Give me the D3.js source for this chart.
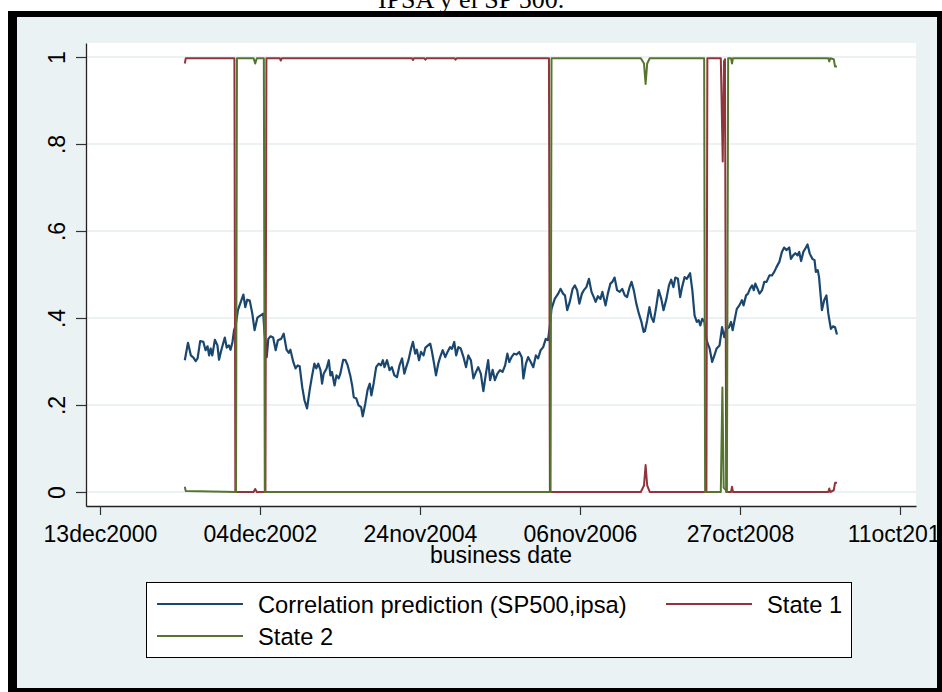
<!DOCTYPE html>
<html><head><meta charset="utf-8">
<script src="https://cdn.jsdelivr.net/npm/d3@7"></script>
<style>
html,body{margin:0;padding:0;background:#fff;}
svg{display:block;}
</style></head><body>
<svg id="chart" width="942" height="692"></svg>
<script>
// ---------------- data ----------------
const titleText = "IPSA y el SP 500.";
const xAxisTitle = "business date";
const xTickValues = [0, 500, 1000, 1500, 2000, 2500];          // business days since 13dec2000
const xTickLabels = ["13dec2000", "04dec2002", "24nov2004", "06nov2006", "27oct2008", "11oct2010"];
const yTickValues = [0, 0.2, 0.4, 0.6, 0.8, 1];
const yTickLabels = ["0", ".2", ".4", ".6", ".8", "1"];
const seriesNames = ["Correlation prediction (SP500,ipsa)", "State 1", "State 2"];

const corrDay = [265,275,284,292,299,305,313,323,330,336,341,346,351,359,367,372,379,390,396,403,408,414,419,424,431,440,448,454,460,468,476,483,492,502,510,514,521,526,533,541,549,556,566,574,583,590,595,604,611,618,624,632,639,647,656,663,670,676,682,689,694,699,708,715,720,725,733,739,746,751,760,767,774,782,788,793,801,808,816,821,829,836,843,848,855,863,871,878,884,889,897,905,912,920,928,936,944,951,957,964,972,978,985,990,997,1003,1011,1017,1025,1032,1037,1044,1050,1057,1063,1071,1079,1086,1094,1100,1107,1113,1120,1127,1136,1144,1151,1159,1167,1175,1182,1190,1198,1206,1213,1219,1227,1234,1242,1250,1258,1266,1273,1279,1286,1294,1302,1310,1318,1323,1331,1338,1346,1354,1362,1369,1377,1385,1393,1400,1406,1411,1421,1432,1439,1447,1453,1460,1468,1477,1484,1491,1498,1506,1512,1520,1528,1536,1543,1549,1556,1564,1570,1575,1580,1587,1595,1601,1608,1616,1624,1632,1640,1647,1655,1661,1668,1676,1684,1692,1699,1703,1710,1717,1723,1730,1738,1746,1754,1761,1770,1778,1785,1792,1798,1806,1813,1819,1827,1834,1840,1844,1851,1858,1865,1871,1876,1882,1889,1894,1899,1905,1913,1920,1927,1936,1944,1951,1957,1965,1972,1977,1983,1990,1998,2006,2011,2019,2025,2031,2038,2043,2048,2055,2061,2069,2076,2083,2092,2100,2107,2114,2123,2131,2138,2145,2154,2159,2166,2173,2180,2185,2191,2198,2206,2211,2218,2226,2233,2237,2243,2247,2256,2263,2270,2276,2284,2291,2297,2303];
const corrValue = [.303,.343,.314,.309,.301,.307,.347,.345,.326,.335,.314,.330,.314,.350,.337,.304,.326,.355,.332,.337,.327,.345,.372,.383,.418,.437,.454,.425,.442,.440,.410,.372,.401,.406,.410,.368,.310,.352,.358,.355,.326,.349,.352,.364,.327,.320,.327,.299,.284,.291,.289,.241,.211,.192,.238,.268,.295,.284,.295,.280,.249,.272,.284,.303,.268,.276,.245,.268,.261,.272,.304,.303,.291,.268,.245,.218,.215,.199,.195,.174,.203,.234,.249,.222,.249,.287,.295,.291,.303,.287,.303,.280,.287,.268,.264,.291,.307,.272,.287,.303,.330,.345,.318,.327,.303,.322,.314,.332,.337,.341,.324,.295,.268,.295,.310,.326,.310,.322,.333,.329,.345,.314,.333,.330,.310,.287,.314,.303,.261,.276,.287,.272,.232,.272,.303,.257,.281,.257,.272,.280,.276,.291,.318,.299,.310,.318,.316,.322,.310,.261,.295,.310,.299,.287,.314,.307,.326,.333,.352,.349,.383,.421,.444,.456,.467,.456,.452,.418,.437,.467,.475,.464,.433,.456,.464,.471,.490,.460,.448,.437,.450,.444,.460,.444,.429,.456,.479,.483,.493,.464,.460,.467,.452,.448,.471,.483,.464,.433,.410,.391,.368,.370,.395,.425,.402,.391,.425,.464,.444,.418,.444,.475,.488,.471,.493,.490,.448,.471,.494,.490,.498,.503,.464,.406,.391,.395,.383,.398,.391,.356,.341,.330,.299,.314,.330,.337,.379,.356,.375,.378,.391,.372,.395,.421,.429,.441,.429,.452,.456,.467,.475,.464,.479,.467,.456,.464,.483,.483,.498,.498,.506,.517,.529,.552,.562,.556,.562,.536,.544,.549,.544,.552,.531,.552,.562,.569,.548,.536,.533,.506,.510,.494,.418,.441,.452,.410,.375,.381,.379,.362];

const state1Day   = [265,268,420,423,480,485,490,517,520,562,565,568,975,978,981,1014,1017,1020,1108,1111,1114,1403,1406,1690,1700,1705,1710,1718,1895,1898,1940,1946,1950,1953,1957,1972,1975,1978,2276,2279,2282,2293,2297,2303];
const state1Value = [.985,.997,.997,0,0,.007,0,0,.997,.997,.992,.997,.997,.993,.997,.997,.994,.997,.997,.994,.997,.997,0,0,.015,.062,.015,0,0,.997,.997,.76,.99,.995,0,0,.012,0,0,.008,0,.004,.021,.021];
const state2Day   = [265,268,425,428,480,485,490,512,515,1408,1411,1690,1700,1705,1710,1718,1888,1891,1940,1945,1949,1955,1959,1963,1972,1975,1978,2276,2279,2282,2293,2297,2303];
const state2Value = [.012,.002,0,.997,.997,.985,.997,.997,0,0,.997,.997,.985,.938,.985,.997,.997,0,0,.24,.01,.005,0,.997,.997,.985,.997,.997,.99,.997,.995,.978,.978];

// ---------------- layout ----------------
const W = 942, H = 692;
const plot = {left: 86, right: 916, top: 43, bottom: 506};
const colors = {bg: "#eaf2f3", grid: "#e6eef0", corr: "#1a476f", s1: "#90353b", s2: "#55752f"};
const font = "'Liberation Sans', Arial, Helvetica, sans-serif";

const svg = d3.select("#chart");

const x = d3.scaleLinear().domain([-43.75, 2550]).range([plot.left, plot.right]);
const y = d3.scaleLinear().domain([-0.0322, 1.0322]).range([plot.bottom, plot.top]);

// page + frame
svg.append("rect").attr("x",0).attr("y",0).attr("width",W).attr("height",H).attr("fill","#fff");
svg.append("rect").attr("x",8).attr("y",11).attr("width",W-8).attr("height",H-11).attr("fill","#000");
svg.append("rect").attr("x",17).attr("y",17).attr("width",920).attr("height",671).attr("fill",colors.bg);

// title (top cut off)
svg.append("text").attr("x",378).attr("y",7.5)
  .attr("font-family","'Liberation Serif','Times New Roman',serif")
  .attr("font-size",26).attr("fill","#000").text(titleText);

// plot region
svg.append("rect").attr("x",plot.left).attr("y",plot.top)
  .attr("width",plot.right-plot.left).attr("height",plot.bottom-plot.top).attr("fill","#fff");

// gridlines
svg.append("g").selectAll("line").data(yTickValues).join("line")
  .attr("x1",plot.left).attr("x2",plot.right)
  .attr("y1",d=>y(d)).attr("y2",d=>y(d))
  .attr("stroke",colors.grid).attr("stroke-width",1.6);

// series
const mk = (days, vals) => days.map((d,i)=>({d, v: vals[i]}));
const line = d3.line().x(p=>x(p.d)).y(p=>y(p.v));
const series = [
  {name: seriesNames[0], data: mk(corrDay, corrValue), color: colors.corr, w: 2.2},
  {name: seriesNames[1], data: mk(state1Day, state1Value), color: colors.s1, w: 2},
  {name: seriesNames[2], data: mk(state2Day, state2Value), color: colors.s2, w: 2}
];
svg.append("g").selectAll("path").data(series).join("path")
  .attr("d", s=>line(s.data)).attr("fill","none")
  .attr("stroke", s=>s.color).attr("stroke-width", s=>s.w)
  .attr("stroke-linejoin","round").attr("stroke-linecap","butt");

// axes
const xAxis = svg.append("g").attr("transform",`translate(0,${plot.bottom})`)
  .call(d3.axisBottom(x).tickValues(xTickValues).tickFormat((d,i)=>xTickLabels[i]).tickSize(9).tickSizeOuter(0));
xAxis.select(".domain").attr("stroke","#222").attr("stroke-width",1.3);
xAxis.selectAll(".tick line").attr("stroke","#333").attr("stroke-width",1.2);
xAxis.selectAll(".tick text").attr("y",35.5).attr("dy",0)
  .attr("font-family",font).attr("font-size",23).attr("fill","#000");

const yAxis = svg.append("g").attr("transform",`translate(${plot.left},0)`)
  .call(d3.axisLeft(y).tickValues(yTickValues).tickFormat((d,i)=>yTickLabels[i]).tickSize(10).tickSizeOuter(0));
yAxis.select(".domain").attr("stroke","#222").attr("stroke-width",1.3);
yAxis.selectAll(".tick line").attr("stroke","#333").attr("stroke-width",1.2);
yAxis.selectAll(".tick text").attr("x",0).attr("y",0).attr("dy",0)
  .attr("text-anchor","middle").attr("transform","rotate(-90) translate(0,-21)")
  .attr("font-family",font).attr("font-size",23).attr("fill","#000");
xAxis.attr("font-family",null); yAxis.attr("font-family",null);

svg.append("text").attr("x",(plot.left+plot.right)/2).attr("y",563)
  .attr("text-anchor","middle").attr("font-family",font).attr("font-size",23)
  .attr("fill","#000").text(xAxisTitle);

// legend
const lg = svg.append("g");
lg.append("rect").attr("x",146.5).attr("y",582.5).attr("width",705).attr("height",75)
  .attr("fill","#fff").attr("stroke","#000").attr("stroke-width",1);
const legendPos = [{lx:157, tx:258, ry:604}, {lx:666, tx:767, ry:604}, {lx:157, tx:258, ry:636}];
series.forEach((s,i)=>{
  const p = legendPos[i];
  lg.append("line").attr("x1",p.lx).attr("x2",p.lx+86).attr("y1",p.ry).attr("y2",p.ry)
    .attr("stroke",s.color).attr("stroke-width",2.2);
  lg.append("text").attr("x",p.tx).attr("y",p.ry+8.5).attr("font-family",font)
    .attr("font-size",23.7).attr("fill","#000").text(s.name);
});

// black frame strips on top (clip right overflow)
svg.append("rect").attr("x",937).attr("y",11).attr("width",W-937).attr("height",H-11).attr("fill","#000");
svg.append("rect").attr("x",8).attr("y",688).attr("width",W-8).attr("height",H-688).attr("fill","#000");
svg.append("rect").attr("x",8).attr("y",11).attr("width",9).attr("height",H-11).attr("fill","#000");
svg.append("rect").attr("x",8).attr("y",11).attr("width",W-8).attr("height",6).attr("fill","#000");
</script>
</body></html>
